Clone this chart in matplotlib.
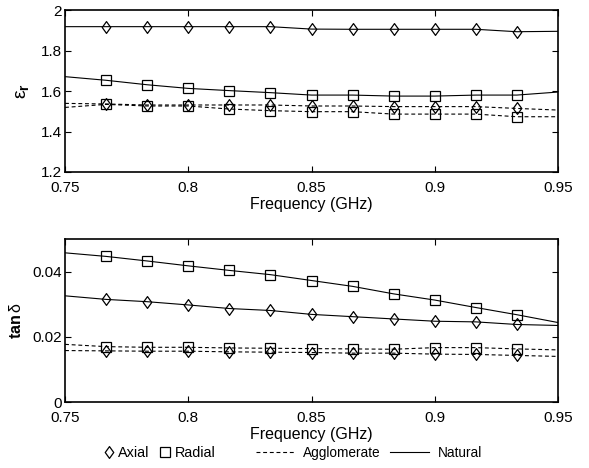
import numpy as np
import matplotlib
matplotlib.use("Agg")
import matplotlib.pyplot as plt
from matplotlib.lines import Line2D
from matplotlib.path import Path

plt.rcParams['font.family'] = ['Liberation Sans', 'DejaVu Sans']
plt.rcParams['mathtext.fontset'] = 'custom'
plt.rcParams['mathtext.rm'] = 'Liberation Sans'
plt.rcParams['mathtext.it'] = 'Liberation Sans'
plt.rcParams['mathtext.bf'] = 'Liberation Sans:bold'

# Frequency points (GHz): line spans 0.75-0.95, markers on interior points
freq = [0.75, 0.7667, 0.7833, 0.80, 0.8167, 0.8333, 0.85, 0.8667, 0.8833, 0.90, 0.9167, 0.9333, 0.95]

# Relative permittivity
eps_nat_axial = [1.918, 1.918, 1.918, 1.918, 1.918, 1.918, 1.906, 1.905, 1.905, 1.905, 1.905, 1.893, 1.895]
eps_nat_radial = [1.671, 1.653, 1.631, 1.613, 1.602, 1.592, 1.580, 1.580, 1.575, 1.575, 1.580, 1.580, 1.595]
eps_agg_axial = [1.539, 1.536, 1.531, 1.531, 1.531, 1.531, 1.526, 1.526, 1.523, 1.523, 1.523, 1.514, 1.506]
eps_agg_radial = [1.519, 1.534, 1.526, 1.526, 1.511, 1.503, 1.498, 1.498, 1.486, 1.486, 1.486, 1.473, 1.473]

# Loss tangent
tan_nat_radial = [0.0458, 0.0447, 0.0433, 0.0418, 0.0404, 0.0391, 0.0373, 0.0355, 0.0332, 0.0313, 0.0290, 0.0268, 0.0244]
tan_nat_axial = [0.0326, 0.0315, 0.0308, 0.0298, 0.0287, 0.0281, 0.0269, 0.0262, 0.0255, 0.0248, 0.0246, 0.0238, 0.0235]
tan_agg_radial = [0.0177, 0.0170, 0.0168, 0.0168, 0.0166, 0.0165, 0.0164, 0.0163, 0.0162, 0.0167, 0.0167, 0.0163, 0.0160]
tan_agg_axial = [0.0158, 0.0157, 0.0156, 0.0156, 0.0154, 0.0153, 0.0152, 0.0150, 0.0150, 0.0147, 0.0146, 0.0143, 0.0140]

eps_ticks = [1.2, 1.4, 1.6, 1.8, 2.0]
eps_ticklabels = ['1.2', '1.4', '1.6', '1.8', '2']
tan_ticks = [0, 0.02, 0.04]
tan_ticklabels = ['0', '0.02', '0.04']
x_ticks = [0.75, 0.8, 0.85, 0.9, 0.95]
x_ticklabels = ['0.75', '0.8', '0.85', '0.9', '0.95']

diamond = Path([(0, 1), (0.72, 0), (0, -1), (-0.72, 0), (0, 1)],
               [Path.MOVETO, Path.LINETO, Path.LINETO, Path.LINETO, Path.CLOSEPOLY])

fig = plt.figure(figsize=(5.89, 4.68), dpi=100)
ax1 = fig.add_axes([0.1104, 0.6325, 0.837, 0.346])
ax2 = fig.add_axes([0.1104, 0.141, 0.837, 0.348])

mk = slice(1, -1)
ms_d = 8.5
ms_s = 7.5
dash = (0, (3.5, 2.5))
base = dict(color='black', lw=0.8, mfc='none', mec='black', mew=0.9, markevery=mk)

ax1.plot(freq, eps_nat_axial, ls='-', marker=diamond, ms=ms_d, **base)
ax1.plot(freq, eps_nat_radial, ls='-', marker='s', ms=ms_s, **base)
ax1.plot(freq, eps_agg_axial, ls=dash, marker=diamond, ms=ms_d, **base)
ax1.plot(freq, eps_agg_radial, ls=dash, marker='s', ms=ms_s, **base)

ax2.plot(freq, tan_nat_radial, ls='-', marker='s', ms=ms_s, **base)
ax2.plot(freq, tan_nat_axial, ls='-', marker=diamond, ms=ms_d, **base)
ax2.plot(freq, tan_agg_radial, ls=dash, marker='s', ms=ms_s, **base)
ax2.plot(freq, tan_agg_axial, ls=dash, marker=diamond, ms=ms_d, **base)

ax1.set_ylim(1.2, 2.0)
ax1.set_yticks(eps_ticks)
ax1.set_yticklabels(eps_ticklabels)
ax2.set_ylim(0, 0.05)
ax2.set_yticks(tan_ticks)
ax2.set_yticklabels(tan_ticklabels)

for ax in (ax1, ax2):
    ax.set_xlim(0.75, 0.95)
    ax.set_xticks(x_ticks)
    ax.set_xticklabels(x_ticklabels)
    ax.tick_params(direction='in', top=True, right=True, length=4, width=0.8,
                   labelsize=11)
    ax.tick_params(axis='x', pad=6.5)
    ax.tick_params(axis='y', pad=2)
    for s in ax.spines.values():
        s.set_linewidth(1.2)
    ax.set_xlabel('Frequency (GHz)', fontsize=11.5, labelpad=1.5)

ax1.set_ylabel(r'$\mathrm{\epsilon}_{\mathbf{r}}$', fontsize=14, labelpad=7)
ax2.set_ylabel(r'tan$\,\delta$', fontsize=11.5, fontweight='bold', labelpad=6)

h_mark = [
    Line2D([], [], ls='none', marker=diamond, mfc='none', mec='black', ms=ms_d, mew=0.9),
    Line2D([], [], ls='none', marker='s', mfc='none', mec='black', ms=ms_s, mew=0.9),
]
h_line = [
    Line2D([], [], ls=dash, color='black', lw=0.8),
    Line2D([], [], ls='-', color='black', lw=0.8),
]
leg1 = fig.legend(h_mark, ['Axial', 'Radial'], loc='center left',
                  bbox_to_anchor=(0.176, 0.032), ncol=2, frameon=False,
                  fontsize=10.4, handlelength=0.7, handletextpad=0.3,
                  columnspacing=0.75, borderpad=0, borderaxespad=0)
leg2 = fig.legend(h_line, ['Agglomerate', 'Natural'], loc='center left',
                  bbox_to_anchor=(0.434, 0.032), ncol=2, frameon=False,
                  fontsize=9.8, handlelength=2.9, handletextpad=0.6,
                  columnspacing=0.65, borderpad=0, borderaxespad=0)

fig.savefig('out.png', dpi=100)
